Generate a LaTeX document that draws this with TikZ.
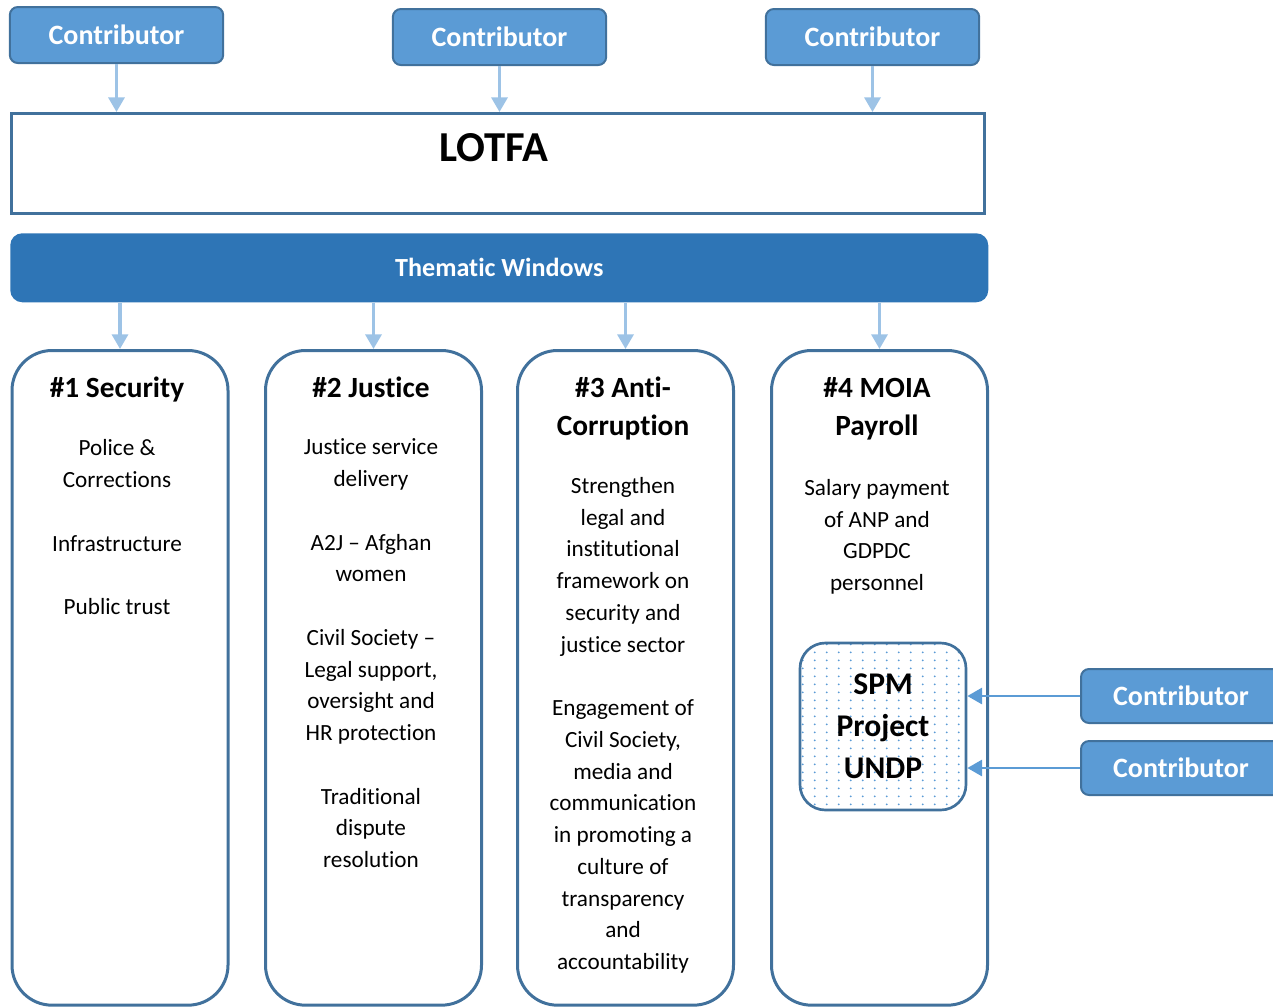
\documentclass[tikz,border=0pt]{standalone}
\usepackage{fontspec}
\usepackage{xcolor}
\usepackage{tikz}
\setmainfont{Carlito}[Ligatures={TeX,NoCommon}]
\usetikzlibrary{arrows.meta}
\usetikzlibrary{positioning}
\usetikzlibrary{patterns.meta}
\definecolor{contribblue}{HTML}{5B9BD5}
\definecolor{edgeblue}{HTML}{41719C}
\definecolor{paleblue}{HTML}{9DC3E6}
\definecolor{windowblue}{HTML}{2E75B6}
\pgfdeclarepattern{
  name=spmdots, type=uncolored,
  bottom left={\pgfpoint{0pt}{0pt}}, top right={\pgfpoint{8.8pt}{6pt}},
  tile size={\pgfpoint{8.8pt}{6pt}},
  code={\pgfpathcircle{\pgfpoint{4.4pt}{3pt}}{0.8pt}\pgfusepath{fill}}
}

\begin{document}
\begin{tikzpicture}[x=0.75pt, y=-0.75pt]
      \tikzset{
        contributor/.style={draw=edgeblue, line width=1.5pt, fill=contribblue,
            rounded corners=6pt, minimum width=160pt, minimum height=42pt,
            text=white, font=\fontsize{21}{25}\selectfont\bfseries},
        window/.style={draw=edgeblue, line width=2.25pt, rounded corners=30pt,
            minimum width=162pt, minimum height=491pt, anchor=north},
        wtitle/.style={align=center, anchor=base, inner sep=0pt,
            font=\fontsize{22}{28.5}\selectfont\bfseries},
        wbody/.style={align=center, anchor=base, inner sep=0pt,
            font=\fontsize{17.4}{23.8}\selectfont},
        feed/.style={-{Triangle[width=12pt,length=11pt]}, paleblue, line width=2.5pt},
        side feed/.style={-{Triangle[width=12pt,length=11pt]}, contribblue, line width=2pt}
      }
      \def\g{23.8pt} % gap between groups

      \useasboundingbox (0,0) rectangle (1273,1007);
      \clip (0,0) rectangle (1273,1007);

      % Contributors
      \node[contributor] (c1) at (116.5,35) {Contributor};
      \node[contributor] (c2) at (499.5,37) {Contributor};
      \node[contributor] (c3) at (872.5,37) {Contributor};

      % LOTFA
      \node[draw=edgeblue, line width=2.25pt, minimum width=729.75pt, minimum height=75pt,
        anchor=north west] (lotfa) at (10,112) {};
      \node[font=\fontsize{32}{38}\selectfont\bfseries] (lotfaname) at (494,148) {LOTFA};
      \foreach \c in {c1,c2,c3}
        \draw[feed] (\c.south) -- (\c.south |- lotfa.north);

      % Thematic windows
      \node[fill=windowblue, rounded corners=9pt, minimum width=733.5pt, minimum height=51.75pt,
        text=white, font=\fontsize{19.6}{24}\selectfont\bfseries,
        anchor=north west] (tw) at (10,233) {Thematic Windows};

      \node[window] (w1) at (120,349) {};
      \node[window] (w2) at (373.5,349) {};
      \node[window] (w3) at (625.5,349) {};
      \node[window] (w4) at (879.5,349) {};
      \foreach \w in {w1,w2,w3,w4}
        \draw[feed] (tw.south -| \w.north) -- (\w.north);

      % Window texts (anchored at the baseline of the last line)
      \node[wtitle] (t1) at (117,397.5) {\#1 Security};
      \node[wbody] (b1) at (117,614.5) {Police \&\\Corrections\\[\g]Infrastructure\\[\g]Public trust};

      \node[wtitle] (t2) at (371,397.5) {\#2 Justice};
      \node[wbody] (b2) at (371,867.5) {Justice service\\delivery\\[\g]A2J – Afghan\\women\\[\g]Civil Society –\\Legal support,\\oversight and\\HR protection\\[\g]Traditional\\dispute\\resolution};

      \node[wtitle] (t3) at (623,435.5) {\#3 Anti-\\Corruption};
      \node[wbody] (b3) at (623,969.5) {Strengthen\\legal and\\institutional\\framework on\\security and\\justice sector\\[\g]Engagement of\\Civil Society,\\media and\\communication\\in promoting a\\culture of\\transparency\\and\\accountability};

      \node[wtitle] (t4) at (877,435.5) {\#4 MOIA\\Payroll};
      \node[wbody] (b4) at (877,590.5) {Salary payment\\of ANP and\\GDPDC\\personnel};

      % SPM project
      \node[draw=edgeblue, line width=2pt, rounded corners=19pt, minimum width=124.5pt,
        minimum height=125.25pt, pattern=spmdots,
        pattern color=contribblue, align=center,
        font=\fontsize{23.7}{31.5}\selectfont\bfseries] (spm) at (883,726.5) {SPM\\Project\\UNDP};

      \node[contributor, minimum width=150pt, minimum height=40.5pt, anchor=west] (c4) at (1080,696) {Contributor};
      \node[contributor, minimum width=150pt, minimum height=40.5pt, anchor=west] (c5) at (1080,768) {Contributor};
      \draw[side feed] (c4.west) -- (c4.west -| spm.east);
      \draw[side feed] (c5.west) -- (c5.west -| spm.east);
\end{tikzpicture}
\end{document}
